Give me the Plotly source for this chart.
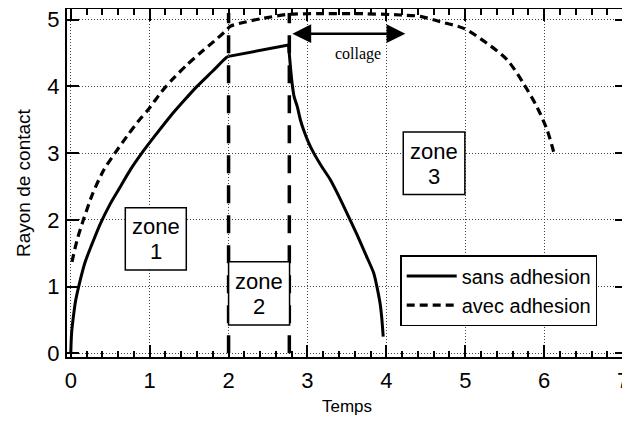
import plotly.graph_objects as go

# ---- data ----
# sans adhesion: rise (zone 1), plateau (zone 2), fall (zone 3)
t_sans_rise = [0.0, 0.01, 0.03, 0.06, 0.1, 0.18, 0.27, 0.37, 0.5, 0.63, 0.76, 0.9, 1.08, 1.26,
               1.43, 1.6, 1.79, 1.98, 2.0]
r_sans_rise = [0.0, 0.3, 0.52, 0.78, 1.0, 1.36, 1.64, 1.93, 2.24, 2.5, 2.76, 3.0, 3.28, 3.55,
               3.78, 4.0, 4.22, 4.44, 4.45]
t_sans_plat = [2.0, 2.76]
r_sans_plat = [4.45, 4.62]
t_sans_fall = [2.76, 2.78, 2.80, 2.83, 2.87, 2.91, 2.95, 3.01, 3.08, 3.18, 3.29, 3.42,
               3.54, 3.65, 3.75, 3.84, 3.88, 3.92, 3.94, 3.96]
r_sans_fall = [4.62, 4.35, 4.1, 3.85, 3.7, 3.5, 3.35, 3.17, 3.0, 2.8, 2.6, 2.3,
               2.0, 1.72, 1.45, 1.2, 1.0, 0.75, 0.55, 0.25]

t_avec = [0.015, 0.08, 0.16, 0.28, 0.42, 0.56, 0.71, 0.85, 1.0, 1.15, 1.3, 1.47, 1.64, 1.82,
          1.98, 2.02, 2.23, 2.44, 2.76, 3.2, 3.7, 4.18, 4.43, 4.68, 4.98, 5.27, 5.53, 5.74,
          5.91, 6.04, 6.12, 6.13]
r_avec = [1.37, 1.7, 2.0, 2.4, 2.75, 3.0, 3.25, 3.47, 3.68, 3.92, 4.12, 4.32, 4.5, 4.68,
          4.85, 4.9, 4.97, 5.02, 5.08, 5.09, 5.09, 5.07, 5.05, 4.97, 4.87, 4.65, 4.4, 4.04,
          3.69, 3.34, 3.02, 2.97]

zone_bounds = [2.0, 2.77]
zone_bound_top = 5.1

series_names = ["sans adhesion", "avec adhesion"]
x_tick_vals = [0, 1, 2, 3, 4, 5, 6, 7]
y_tick_vals = [0, 1, 2, 3, 4, 5]

# zone boxes: (x0, x1, y0, y1)
zone_labels = ["1", "2", "3"]
zone_boxes = [(0.691, 1.464, 1.249, 2.183),
              (2.0, 2.773, 0.424, 1.373),
              (4.214, 4.995, 2.38, 3.318)]

collage_text = "collage"
collage_span = (2.79, 4.24)
collage_arrow_y = 4.79
collage_text_pos = (3.64, 4.49)

FONT = "Liberation Sans, Arial, Helvetica, sans-serif"

fig = go.Figure()

for xb in zone_bounds:
    fig.add_trace(go.Scatter(x=[xb, xb], y=[0, zone_bound_top], mode="lines",
                             line=dict(color="black", width=3.5, dash="18px,12px"),
                             showlegend=False, hoverinfo="skip"))

solid = dict(color="black", width=3)
fig.add_trace(go.Scatter(x=t_sans_rise, y=r_sans_rise, mode="lines", name=series_names[0],
                         line=dict(**solid, shape="spline", smoothing=0.8)))
fig.add_trace(go.Scatter(x=t_sans_plat, y=r_sans_plat, mode="lines", name=series_names[0],
                         showlegend=False, line=solid))
fig.add_trace(go.Scatter(x=t_sans_fall, y=r_sans_fall, mode="lines", name=series_names[0],
                         showlegend=False, line=dict(**solid, shape="spline", smoothing=0.8)))
fig.add_trace(go.Scatter(x=t_avec, y=r_avec, mode="lines", name=series_names[1],
                         line=dict(color="black", width=3.2, dash="8px,5px", shape="spline",
                                   smoothing=0.8)))

shapes = []
annotations = []
for lab, (x0, x1, y0, y1) in zip(zone_labels, zone_boxes):
    shapes.append(dict(type="rect", xref="x", yref="y", x0=x0, x1=x1, y0=y0, y1=y1,
                       line=dict(color="black", width=1.5), fillcolor="white", layer="above"))
    xc = (x0 + x1) / 2
    yc = (y0 + y1) / 2
    annotations.append(dict(x=xc, y=yc, xref="x", yref="y", text="zone", showarrow=False,
                            yshift=12, font=dict(family=FONT, size=22, color="black")))
    annotations.append(dict(x=xc, y=yc, xref="x", yref="y", text=lab, showarrow=False,
                            yshift=-13, font=dict(family=FONT, size=22, color="black")))

# collage double arrow
annotations.append(dict(x=collage_span[1], y=collage_arrow_y, ax=collage_span[0], ay=collage_arrow_y,
                        xref="x", yref="y", axref="x", ayref="y", text="", showarrow=True,
                        arrowhead=2, arrowside="end+start", arrowsize=1.5, arrowwidth=2.5,
                        arrowcolor="black"))
annotations.append(dict(x=collage_text_pos[0], y=collage_text_pos[1], xref="x", yref="y",
                        text=collage_text, showarrow=False,
                        font=dict(family="Liberation Serif, Times New Roman, serif", size=16,
                                  color="black")))

# axis titles
annotations.append(dict(x=0.5, y=0, xref="paper", yref="paper", text="Temps", showarrow=False,
                        yanchor="middle", yshift=-49, font=dict(family=FONT, size=17, color="black")))
annotations.append(dict(x=0, y=0.5, xref="paper", yref="paper", text="Rayon de contact",
                        showarrow=False, textangle=-90, xanchor="center", xshift=-44,
                        font=dict(family=FONT, size=19, color="black")))

# page body has an 8px default margin, so the figure is 8px smaller and margins offset
fig.update_layout(
    width=622, height=413,
    margin=dict(l=59, r=3, t=1, b=64, autoexpand=False),
    paper_bgcolor="white", plot_bgcolor="white",
    font=dict(family=FONT, size=22, color="black"),
    showlegend=True,
    legend=dict(x=0.595, y=0.293, xanchor="left", yanchor="top",
                bordercolor="black", borderwidth=1.5, bgcolor="white",
                font=dict(family=FONT, size=20, color="black"),
                itemwidth=50, tracegroupgap=0),
    shapes=shapes,
    annotations=annotations,
)

grid_style = dict(showgrid=True, gridcolor="#444", griddash="1px,2px", gridwidth=1)
fig.update_xaxes(range=[-0.048, 7.05], tickvals=x_tick_vals, ticks="inside", ticklen=12,
                 tickwidth=1.5, tickcolor="black", showline=True, linecolor="black", linewidth=2,
                 mirror="allticks", zeroline=False, automargin=False, ticklabelstandoff=3,
                 ticklabeloverflow="allow",
                 minor=dict(dtick=0.2, ticks="inside", ticklen=6, tickwidth=1.5,
                            tickcolor="black", showgrid=False),
                 tickfont=dict(family=FONT, size=22, color="black"), **grid_style)
fig.update_yaxes(range=[-0.055, 5.16], tickvals=y_tick_vals, ticks="inside", ticklen=12,
                 tickwidth=1.5, tickcolor="black", showline=True, linecolor="black", linewidth=2,
                 mirror="allticks", zeroline=False, automargin=False, ticklabelstandoff=1,
                 ticklabeloverflow="allow",
                 tickfont=dict(family=FONT, size=22, color="black"), **grid_style)

fig.write_html("out.html", post_script="document.body.style.overflow='hidden';")
